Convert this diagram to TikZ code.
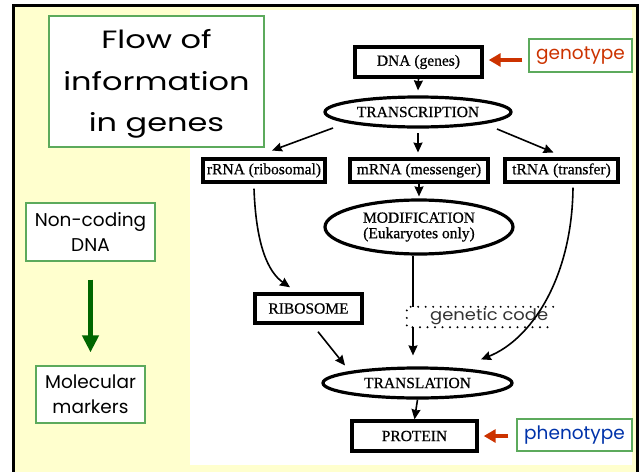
\documentclass[tikz,border=0pt]{standalone}
\usepackage{fontspec}
\setmainfont{Liberation Serif}
\newfontfamily\flowfont[FakeBold=0.6]{Liberation Serif}
\newfontfamily\comicfont{Poppins}
\newfontfamily\titlefont[FakeStretch=1.28]{Poppins}
\newfontfamily\codefont[FakeStretch=1.12]{Poppins}
\usetikzlibrary{shapes.geometric,arrows.meta,calc}
\definecolor{slideyellow}{RGB}{255,255,206}
\definecolor{boxgreen}{RGB}{92,170,92}
\definecolor{arrowgreen}{RGB}{0,102,0}
\definecolor{arrowred}{RGB}{204,51,0}
\definecolor{phenoblue}{RGB}{0,51,170}
\begin{document}
\begin{tikzpicture}[x=1pt,y=-1pt,
  flowbox/.style={draw, line width=3.4pt, rectangle, inner sep=0pt, font=\flowfont\fontsize{15.5}{17}\selectfont},
  flowoval/.style={draw, ellipse, line width=3.2pt, inner sep=0pt, font=\flowfont\fontsize{15.5}{17}\selectfont},
  slidebox/.style={draw=boxgreen, line width=1.2pt, fill=white, inner sep=0pt, align=center},
  flowarrow/.style={-{Stealth[length=10pt,width=9pt,inset=1pt]}, line width=1.6pt},
  redarrow/.style={-{Triangle[length=12pt,width=13pt]}, line width=4.5pt, arrowred},
  greenarrow/.style={-{Triangle[length=17pt,width=16pt]}, line width=5pt, arrowgreen},
  dotline/.style={line width=2.2pt, dash pattern=on 0pt off 7.5pt, line cap=round},
]
\useasboundingbox (0,0) rectangle (641,472);
% slide background
\fill[white] (0,0) rectangle (641,472);
\fill[slideyellow] (13.5,5) rectangle (637.5,472);
\draw[line width=3pt] (13.5,480) -- (13.5,5) -- (637.5,5) -- (637.5,480);
\fill[white] (190,10) rectangle (632,465);

% left column
\node[slidebox, minimum width=215pt, minimum height=131pt] (title) at (156.5,81.5) {};
\node[align=center, inner sep=0pt, font=\titlefont\fontsize{25}{41.5}\selectfont] (titletext) at (156.5,84)
      {Flow of\\information\\in genes};
\node[slidebox, minimum width=129pt, minimum height=58pt,
      font=\comicfont\fontsize{18.5}{25}\selectfont] (noncoding) at (90.5,232)
      {Non-coding\\DNA};
\node[slidebox, minimum width=109pt, minimum height=57pt,
      font=\comicfont\fontsize{18.5}{25}\selectfont] (markers) at (90.5,394.5)
      {Molecular\\markers};
\draw[greenarrow] ($(noncoding.south)+(0,18)$) -- ($(markers.north)+(0,-13)$);

% flow diagram
\node[flowbox, minimum width=127pt, minimum height=30pt] (dna) at (418.5,62) {DNA (genes)};
\node[flowoval, minimum width=186pt, minimum height=30pt] (trans) at (418,112) {TRANSCRIPTION};
\node[flowbox, minimum width=122pt, minimum height=23pt] (rrna) at (264,170.5) {rRNA (ribosomal)};
\node[flowbox, minimum width=138pt, minimum height=23pt] (mrna) at (419,170.5) {mRNA (messenger)};
\node[flowbox, minimum width=113pt, minimum height=23pt] (trna) at (561.5,170.5) {tRNA (transfer)};
\node[flowoval, minimum width=188pt, minimum height=54pt, align=center,
      font=\flowfont\fontsize{15.5}{15.5}\selectfont] (mod) at (419,227) {MODIFICATION\\(Eukaryotes only)};
\node[flowbox, minimum width=107pt, minimum height=29pt] (ribo) at (308.5,308.5) {RIBOSOME};
\node[minimum width=146pt, minimum height=20pt, inner sep=0pt] (gcode) at (480,317) {};
\node[font=\codefont\fontsize{16}{18}\selectfont, text=black!80, anchor=west, inner sep=0pt] (gtext) at (430,317) {genetic code};
\draw[dotline] (gcode.north east) -- (gcode.north west) -- (gcode.south west) -- (gcode.south east);
\node[flowoval, minimum width=189pt, minimum height=30pt] (transl) at (417.5,383) {TRANSLATION};
\node[flowbox, minimum width=125pt, minimum height=30pt] (protein) at (414.5,436) {PROTEIN};

\draw[flowarrow] (dna.south) -- ($(trans.north)+(0,-5)$);
\draw[flowarrow] ($(trans.center)+(-85,16)$) -- ($(rrna.center)+(8,-20)$);
\draw[flowarrow] ($(trans.center)+(0,21)$) -- ($(mrna.center)+(-1,-18)$);
\draw[flowarrow] ($(trans.center)+(79,17)$) -- ($(trna.center)+(-8,-18)$);
\draw[flowarrow] (mrna.south) -- ($(mod.north)+(0,-2)$);
\draw[line width=1.6pt] ($(mod.south)+(-6,0)$) -- (gcode.north west -| 413,0);
\draw[flowarrow] (gcode.south west -| 413,0) -- ($(transl.north)+(-4.5,-11)$);
\draw[flowarrow] ($(rrna.south)+(-10,5)$) .. controls (256,245) and (268,272) .. ($(ribo.north)+(-18.5,-5)$);
\draw[flowarrow] ($(trna.south)+(11.5,4)$) .. controls (572,280) and (530,340) .. ($(transl.north)+(63.5,-7)$);
\draw[flowarrow] ($(ribo.south)+(9.5,7)$) -- ($(transl.north)+(-72.5,-1)$);
\draw[flowarrow] (transl.south) -- (protein.north);

% genotype / phenotype
\node[slidebox, minimum width=103pt, minimum height=33pt, text=arrowred,
      font=\comicfont\fontsize{18.5}{22}\selectfont] (geno) at (580.5,55.5) {genotype};
\node[slidebox, minimum width=115pt, minimum height=32pt, text=phenoblue,
      font=\comicfont\fontsize{18.5}{22}\selectfont] (pheno) at (574.5,435) {phenotype};
\draw[redarrow] ($(geno.west)+(-6,4.5)$) -- ($(dna.east)+(5,-2)$);
\draw[redarrow] ($(pheno.west)+(-8,1)$) -- ($(protein.east)+(5,0)$);
\end{tikzpicture}
\end{document}
